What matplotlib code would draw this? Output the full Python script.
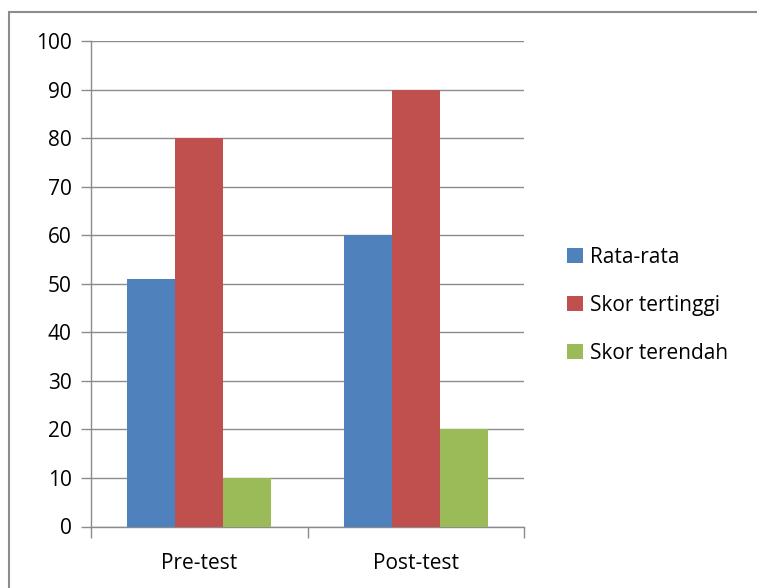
import numpy as np
import matplotlib.pyplot as plt
from matplotlib.patches import Rectangle

categories = ['Pre-test', 'Post-test']
series = ['Rata-rata', 'Skor tertinggi', 'Skor terendah']
rata_rata = [51, 60]
skor_tertinggi = [80, 90]
skor_terendah = [10, 20]
colors = ['#4f81bd', '#c0504d', '#9bbb59']

plt.rcParams['font.family'] = ['Open Sans', 'DejaVu Sans']
plt.rcParams['font.size'] = 15

W, H = 757, 588
fig = plt.figure(figsize=(W / 100, H / 100), dpi=100)

# outer chart border (only top/left visible, rest cropped)
fig.patches.append(Rectangle((9 / W, -0.5), 1.5, 0.5 + (H - 12) / H, transform=fig.transFigure,
                             fill=False, edgecolor='#8c8c8c', linewidth=1.5))

ax = fig.add_axes([91 / W, 61.5 / H, (524 - 91) / W, (526.5 - 41) / H])

x = np.arange(len(categories))
bw = 1 / 4.5
for i, (vals, name) in enumerate(zip([rata_rata, skor_tertinggi, skor_terendah], series)):
    ax.bar(x + (i - 1) * bw, vals, width=bw, color=colors[i], label=name, zorder=3)

ax.set_xlim(-0.5, 1.5)
ax.set_ylim(0, 100)
ax.set_yticks(range(0, 101, 10))
ax.yaxis.grid(True, color='#8c8c8c', linewidth=1)
ax.set_axisbelow(True)

ax.set_xticks([-0.5, 0.5, 1.5], minor=False)
ax.set_xticklabels([])
ax.set_xticks(x, minor=True)
ax.set_xticklabels(categories, minor=True)
ax.tick_params(axis='x', which='major', length=8, color='#8c8c8c', width=1)
ax.tick_params(axis='x', which='minor', length=0, pad=19)
ax.tick_params(axis='y', length=7, color='#8c8c8c', width=1, pad=7)

for s in ['top', 'right']:
    ax.spines[s].set_visible(False)
for s in ['left', 'bottom']:
    ax.spines[s].set_color('#8c8c8c')
    ax.spines[s].set_linewidth(1)

ax.legend(loc='center left', bbox_to_anchor=(1.056, 0.456), frameon=False,
          handlelength=0.75, handleheight=0.75, handletextpad=0.35, labelspacing=1.3)

fig.savefig('out.png', dpi=100, facecolor='white')
